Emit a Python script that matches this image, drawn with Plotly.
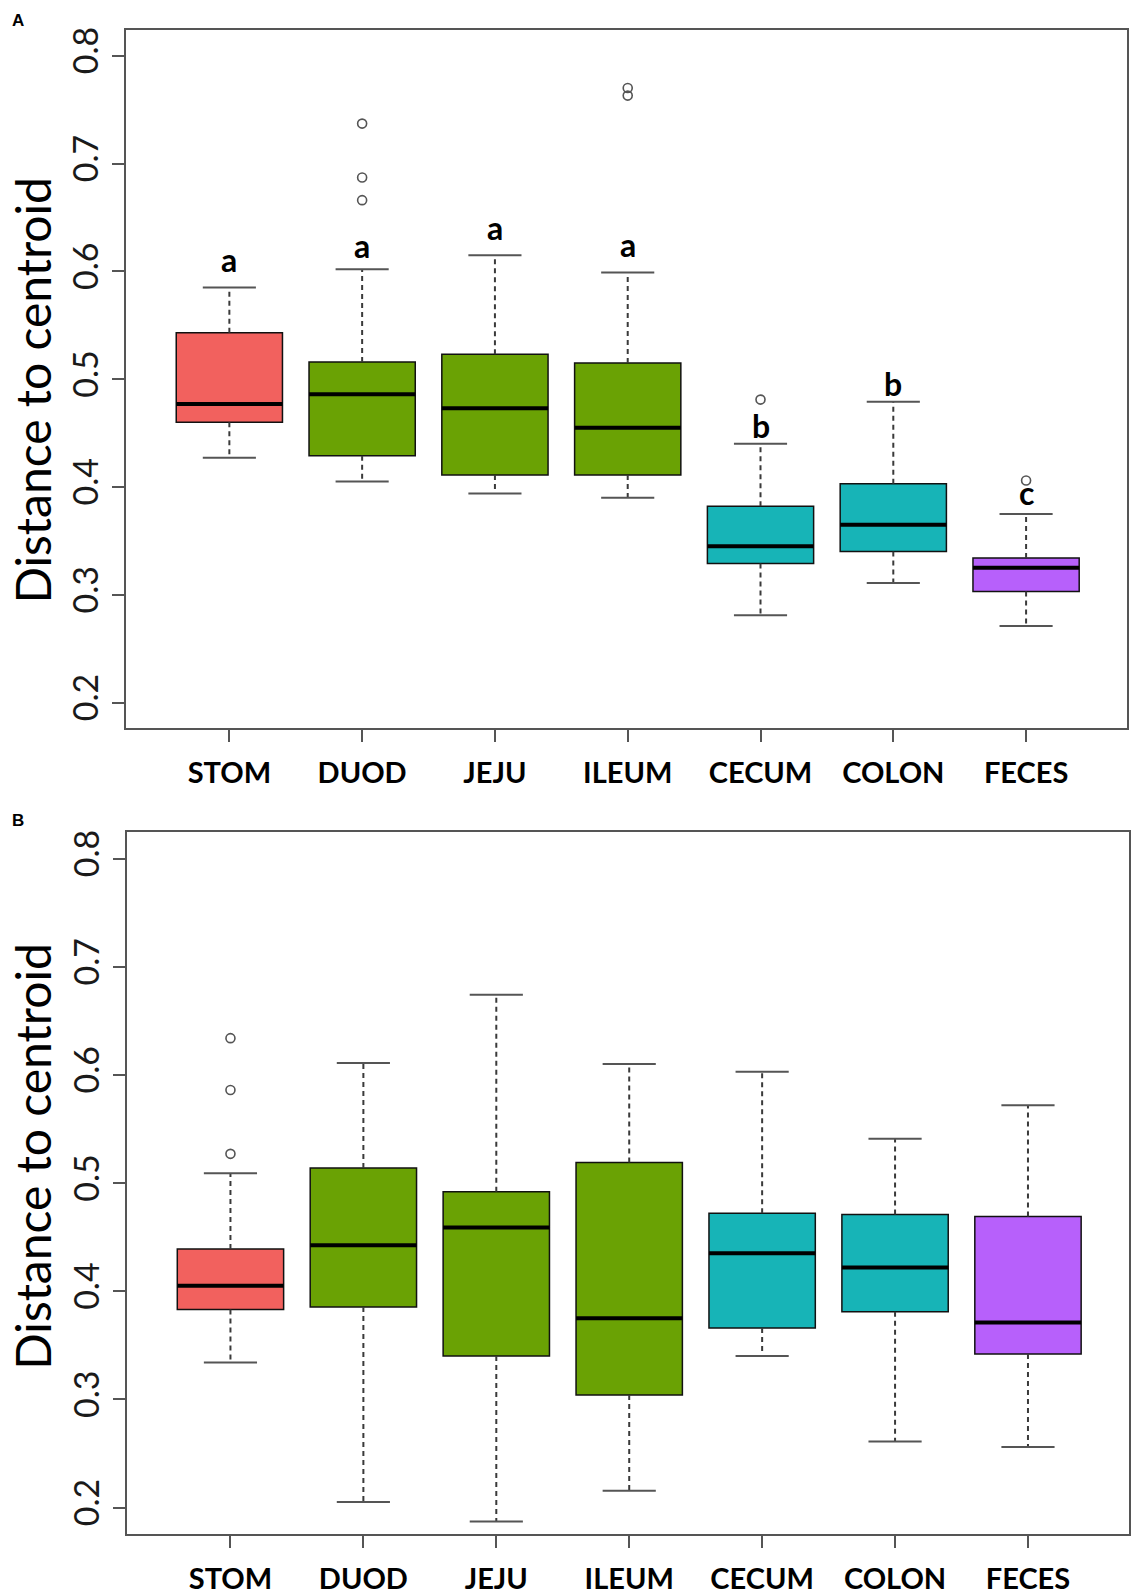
import plotly.graph_objects as go

categories = ["STOM", "DUOD", "JEJU", "ILEUM", "CECUM", "COLON", "FECES"]
colors = ["#F2615E", "#6AA204", "#6AA204", "#6AA204", "#17B4B7", "#17B4B7", "#B760FB"]

# Panel A
a_lower = [0.427, 0.405, 0.394, 0.390, 0.281, 0.311, 0.271]
a_q1 = [0.460, 0.429, 0.411, 0.411, 0.329, 0.340, 0.303]
a_median = [0.477, 0.486, 0.473, 0.455, 0.345, 0.365, 0.325]
a_q3 = [0.543, 0.516, 0.523, 0.515, 0.382, 0.403, 0.334]
a_upper = [0.585, 0.602, 0.615, 0.599, 0.440, 0.479, 0.375]
a_outliers = [[], [0.737, 0.687, 0.666], [], [0.770, 0.763], [0.481], [], [0.406]]
a_letters = ["a", "a", "a", "a", "b", "b", "c"]
a_letter_y = [0.607, 0.620, 0.637, 0.621, 0.457, 0.496, 0.391]

# Panel B
b_lower = [0.334, 0.205, 0.187, 0.2155, 0.340, 0.261, 0.256]
b_q1 = [0.383, 0.3855, 0.340, 0.304, 0.366, 0.381, 0.342]
b_median = [0.405, 0.4425, 0.459, 0.375, 0.435, 0.422, 0.371]
b_q3 = [0.439, 0.514, 0.492, 0.519, 0.472, 0.471, 0.469]
b_upper = [0.509, 0.611, 0.674, 0.610, 0.603, 0.541, 0.572]
b_outliers = [[0.634, 0.586, 0.527], [], [], [], [], [], []]

y_ticks = [0.2, 0.3, 0.4, 0.5, 0.6, 0.7, 0.8]

fig = go.Figure()

BOXW = 0.8
CAPW = 0.4
positions = list(range(1, len(categories) + 1))


def add_panel(xa, ya, lower, q1, med, q3, upper, outliers):
    for i, pos in enumerate(positions):
        # dashed whiskers
        fig.add_trace(go.Scatter(
            x=[pos, pos, None, pos, pos],
            y=[q3[i], upper[i], None, q1[i], lower[i]],
            mode="lines", line=dict(color="#3a3a3a", width=2, dash="5px,4px"),
            xaxis=xa, yaxis=ya, showlegend=False, hoverinfo="skip"))
        # caps
        fig.add_trace(go.Scatter(
            x=[pos - CAPW / 2, pos + CAPW / 2, None, pos - CAPW / 2, pos + CAPW / 2],
            y=[upper[i], upper[i], None, lower[i], lower[i]],
            mode="lines", line=dict(color="#555555", width=2),
            xaxis=xa, yaxis=ya, showlegend=False, hoverinfo="skip"))
        # box
        fig.add_trace(go.Box(
            x=[pos], q1=[q1[i]], median=[med[i]], q3=[q3[i]],
            lowerfence=[q1[i]], upperfence=[q3[i]],
            width=BOXW, fillcolor=colors[i],
            line=dict(color="#111111", width=1.5), whiskerwidth=0,
            boxpoints=False, xaxis=xa, yaxis=ya, showlegend=False, hoverinfo="skip"))
        # thick median
        fig.add_trace(go.Scatter(
            x=[pos - BOXW / 2, pos + BOXW / 2], y=[med[i], med[i]],
            mode="lines", line=dict(color="#000000", width=4),
            xaxis=xa, yaxis=ya, showlegend=False, hoverinfo="skip"))
        if outliers[i]:
            fig.add_trace(go.Scatter(
                x=[pos] * len(outliers[i]), y=outliers[i], mode="markers",
                marker=dict(symbol="circle-open", size=9, color="#555555",
                            line=dict(width=1.6, color="#555555")),
                xaxis=xa, yaxis=ya, showlegend=False, hoverinfo="skip"))


add_panel("x", "y", a_lower, a_q1, a_median, a_q3, a_upper, a_outliers)
add_panel("x2", "y2", b_lower, b_q1, b_median, b_q3, b_upper, b_outliers)

annotations = []
for i, pos in enumerate(positions):
    annotations.append(dict(
        x=pos, y=a_letter_y[i], xref="x", yref="y", text=a_letters[i],
        showarrow=False, xanchor="center", yanchor="middle",
        yshift=4 if a_letters[i] != "b" else 0,
        font=dict(family="Lato", size=32, color="#000000", weight="bold")))

title_font = dict(family="Lato", size=48, color="#000000")
annotations.append(dict(x=33 / 1131, y=1 - 390 / 1595, xref="paper", yref="paper",
                        text="Distance to centroid", textangle=-90, showarrow=False,
                        xanchor="center", yanchor="middle", font=title_font))
annotations.append(dict(x=33 / 1131, y=1 - 1161 / 1595, xref="paper", yref="paper",
                        text="Distance to centroid", textangle=-90, showarrow=False,
                        xanchor="center", yanchor="middle", font=title_font))
annotations.append(dict(x=18 / 1131, y=1 - 18 / 1595, xref="paper", yref="paper",
                        text="A", showarrow=False, xanchor="center", yanchor="middle",
                        font=dict(family="Liberation Sans", size=17, color="#000000", weight="bold")))
annotations.append(dict(x=18 / 1131, y=1 - 823 / 1595, xref="paper", yref="paper",
                        text="B", showarrow=False, xanchor="center", yanchor="middle",
                        font=dict(family="Liberation Sans", size=17, color="#000000", weight="bold")))

xaxis_common = dict(
    range=[0.22, 7.76], tickmode="array", tickvals=positions, ticktext=categories,
    ticks="outside", ticklen=12, tickwidth=2, tickcolor="#555555",
    showline=True, linecolor="#555555", linewidth=2, mirror=True,
    showgrid=False, zeroline=False, ticklabelstandoff=6,
    tickfont=dict(family="Lato", size=29, color="#000000", weight="bold"),
)
yaxis_common = dict(
    tickmode="array", tickvals=y_ticks, ticktext=[f"{v:.1f}" for v in y_ticks],
    tickangle=-90, ticks="outside", ticklen=12, tickwidth=2, tickcolor="#555555",
    showline=True, linecolor="#555555", linewidth=2, mirror=True,
    showgrid=False, zeroline=False, ticklabelstandoff=0,
    tickfont=dict(family="Lato", size=34, color="#1a1a1a"),
)

fig.update_layout(
    width=1131, height=1595,
    margin=dict(l=0, r=0, t=0, b=0),
    paper_bgcolor="white", plot_bgcolor="white",
    showlegend=False,
    xaxis=dict(domain=[126 / 1131, 1129 / 1131], anchor="y", **xaxis_common),
    yaxis=dict(domain=[1 - 730 / 1595, 1 - 27 / 1595], anchor="x",
               range=[0.176, 0.824], **yaxis_common),
    xaxis2=dict(domain=[127 / 1131, 1.0], anchor="y2", **xaxis_common),
    yaxis2=dict(domain=[1 - 1541 / 1595, 1 - 834 / 1595], anchor="x2",
                range=[0.1752, 0.8248], **yaxis_common),
    annotations=annotations,
)

fig.write_html("out.html")
